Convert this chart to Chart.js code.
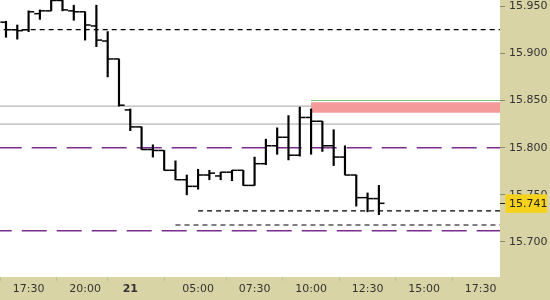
<!DOCTYPE html>
<html>
<head>
<meta charset="utf-8">
<script src="https://cdn.jsdelivr.net/npm/chart.js@4.4.1/dist/chart.umd.min.js"></script>
<style>
    html, body { margin: 0; padding: 0; background: #fff; }
    canvas { display: block; }
</style>
</head>
<body>
<canvas id="priceChart" width="550" height="300"></canvas>
<script>
// --- data: 30 min OHLC bars, index 0 = first bar at the left edge ---
const opens  = [15.933, 15.925, 15.925, 15.942, 15.945, 15.956, 15.945, 15.944, 15.929, 15.913,
                15.894, 15.840, 15.822, 15.798, 15.797, 15.776, 15.766, 15.759, 15.771, 15.770,
                15.774, 15.776, 15.760, 15.783, 15.802, 15.811, 15.792, 15.832, 15.828, 15.802,
                15.790, 15.771, 15.747, 15.746];
const highs  = [15.934, 15.930, 15.945, 15.946, 15.958, 15.957, 15.951, 15.944, 15.951, 15.923,
                15.894, 15.841, 15.822, 15.803, 15.797, 15.786, 15.771, 15.777, 15.776, 15.774,
                15.776, 15.776, 15.790, 15.809, 15.821, 15.834, 15.843, 15.841, 15.828, 15.819,
                15.802, 15.771, 15.752, 15.760];
const lows   = [15.917, 15.915, 15.923, 15.936, 15.945, 15.945, 15.935, 15.914, 15.907, 15.875,
                15.844, 15.818, 15.798, 15.790, 15.776, 15.766, 15.750, 15.756, 15.766, 15.766,
                15.765, 15.760, 15.760, 15.782, 15.793, 15.787, 15.791, 15.793, 15.796, 15.781,
                15.771, 15.738, 15.732, 15.729];
const closes = [15.925, 15.924, 15.944, 15.945, 15.956, 15.946, 15.944, 15.930, 15.914, 15.894,
                15.845, 15.822, 15.798, 15.797, 15.776, 15.766, 15.759, 15.771, 15.773, 15.774,
                15.776, 15.760, 15.783, 15.802, 15.811, 15.792, 15.832, 15.828, 15.802, 15.790,
                15.771, 15.747, 15.746, 15.741];

// time axis (bar index -> label)
const timeTickPos    = [2, 7, 11, 17, 22, 27, 32, 37, 42];
const timeTickLabels = ['17:30', '20:00', '21', '05:00', '07:30', '10:00', '12:30', '15:00', '17:30'];
const priceTicks     = [15.70, 15.75, 15.80, 15.85, 15.90, 15.95];

// horizontal levels
const blackDashLevels = [15.925, 15.733, 15.718];
const blackDashFrom   = [-1, 17, 15];
const grayLevels      = [15.844, 15.825];
const purpleLevels    = [15.800, 15.712];
const purpleDashPhase = [33, 8];
const zoneLine   = 15.850;
const zoneTop    = 15.848;
const zoneBottom = 15.837;
const zoneFrom   = 27;

// visible window
const X_MIN = -0.53, X_MAX = 43.72;
const Y_MIN = 15.6629, Y_MAX = 15.9565;

const hLine = (y, from) => [{ x: from, y: y }, { x: 45, y: y }];

const levelSet = (data, color, width, dash, order, extra) => Object.assign({
    type: 'line', data: data, borderColor: color, borderWidth: width,
    borderDash: dash, pointRadius: 0, fill: false, order: order
}, extra || {});

const datasets = [
    {
        type: 'bar',
        data: highs.map((h, i) => ({ x: i, y: [lows[i], h] })),
        backgroundColor: '#000',
        borderWidth: 0,
        barThickness: 1.5,
        order: 0
    },
    {
        type: 'scatter',
        data: opens.map((o, i) => ({ x: i - 0.25, y: o })),
        pointStyle: 'line', pointRadius: 2.8, pointHoverRadius: 2.8,
        borderColor: '#000', borderWidth: 1.5, order: 0
    },
    {
        type: 'scatter',
        data: closes.map((c, i) => ({ x: i + 0.25, y: c })),
        pointStyle: 'line', pointRadius: 2.8, pointHoverRadius: 2.8,
        borderColor: '#000', borderWidth: 1.5, order: 0
    }
];

blackDashLevels.forEach((v, k) => datasets.push(levelSet(hLine(v, blackDashFrom[k]), '#000', 1.2, [5, 4], 1)));
purpleLevels.forEach((v, k) => datasets.push(levelSet(hLine(v, -1), '#7b2b8e', 1.5, [25, 10], 1, { borderDashOffset: purpleDashPhase[k] })));
datasets.push(levelSet(hLine(zoneLine, zoneFrom), '#7cc47c', 1, [], 2));
// red zone: fill between two edges
datasets.push(levelSet(hLine(zoneTop, zoneFrom), 'rgba(0,0,0,0)', 0, [], 3));
datasets.push(levelSet(hLine(zoneBottom, zoneFrom), 'rgba(0,0,0,0)', 0, [], 3, { fill: '-1', backgroundColor: '#f49a9a' }));
grayLevels.forEach(v => datasets.push(levelSet(hLine(v, -1), '#a3a3a3', 1, [], 4)));

const panelBackground = {
    id: 'panelBackground',
    beforeDraw(chart) {
        const { ctx, chartArea, width, height } = chart;
        ctx.save();
        ctx.fillStyle = '#d8d4a6';
        ctx.fillRect(0, 0, width, height);
        ctx.fillStyle = '#fff';
        ctx.fillRect(chartArea.left, chartArea.top, chartArea.right - chartArea.left, chartArea.bottom - chartArea.top);
        ctx.restore();
    }
};

const lastPriceTag = {
    id: 'lastPriceTag',
    afterDraw(chart) {
        const { ctx, chartArea } = chart;
        const last = closes[closes.length - 1];
        const y = chart.scales.y.getPixelForValue(last);
        const x = chartArea.right;
        ctx.save();
        ctx.fillStyle = '#f6d21c';
        ctx.fillRect(x + 5.5, y - 9, 41.5, 18.5);
        ctx.strokeStyle = '#222';
        ctx.lineWidth = 1;
        ctx.beginPath();
        ctx.moveTo(x, Math.round(y) + 0.5);
        ctx.lineTo(x + 5, Math.round(y) + 0.5);
        ctx.stroke();
        ctx.fillStyle = '#222';
        ctx.font = '11px "DejaVu Sans"';
        ctx.textBaseline = 'middle';
        ctx.textAlign = 'left';
        ctx.fillText(last.toFixed(3), x + 9, y + 1);
        ctx.restore();
    }
};

new Chart(document.getElementById('priceChart'), {
    type: 'bar',
    data: { datasets: datasets },
    options: {
        responsive: false,
        animation: false,
        devicePixelRatio: 1,
        events: [],
        layout: { padding: 0, autoPadding: false },
        plugins: {
            legend: { display: false },
            tooltip: { enabled: false }
        },
        scales: {
            x: {
                type: 'linear',
                min: X_MIN,
                max: X_MAX,
                offset: false,
                grid: { drawOnChartArea: false, drawTicks: true, tickLength: 4, color: '#c6c29c' },
                border: { display: false },
                ticks: {
                    autoSkip: false,
                    maxRotation: 0,
                    padding: 2,
                    color: '#333',
                    font: ctx => ({
                        family: 'DejaVu Sans',
                        size: 11,
                        weight: ctx.tick && ctx.tick.value === 11 ? 'bold' : 'normal'
                    }),
                    callback: v => {
                        const k = timeTickPos.indexOf(v);
                        return k >= 0 ? timeTickLabels[k] : '';
                    }
                },
                afterBuildTicks: s => { s.ticks = timeTickPos.map(v => ({ value: v })); },
                afterFit: s => { s.height = 23; s.paddingLeft = 0; s.paddingRight = 0; }
            },
            y: {
                type: 'linear',
                position: 'right',
                min: Y_MIN,
                max: Y_MAX,
                grid: { drawOnChartArea: false, tickLength: 5, color: '#8c8a72' },
                border: { display: false },
                ticks: {
                    padding: 4,
                    color: '#333',
                    font: { family: 'DejaVu Sans', size: 11 },
                    callback: v => Number(v).toFixed(3)
                },
                afterBuildTicks: s => { s.ticks = priceTicks.map(v => ({ value: v })); },
                afterFit: s => { s.width = 50; s.paddingTop = 0; s.paddingBottom = 0; }
            }
        }
    },
    plugins: [panelBackground, lastPriceTag]
});
</script>
</body>
</html>
